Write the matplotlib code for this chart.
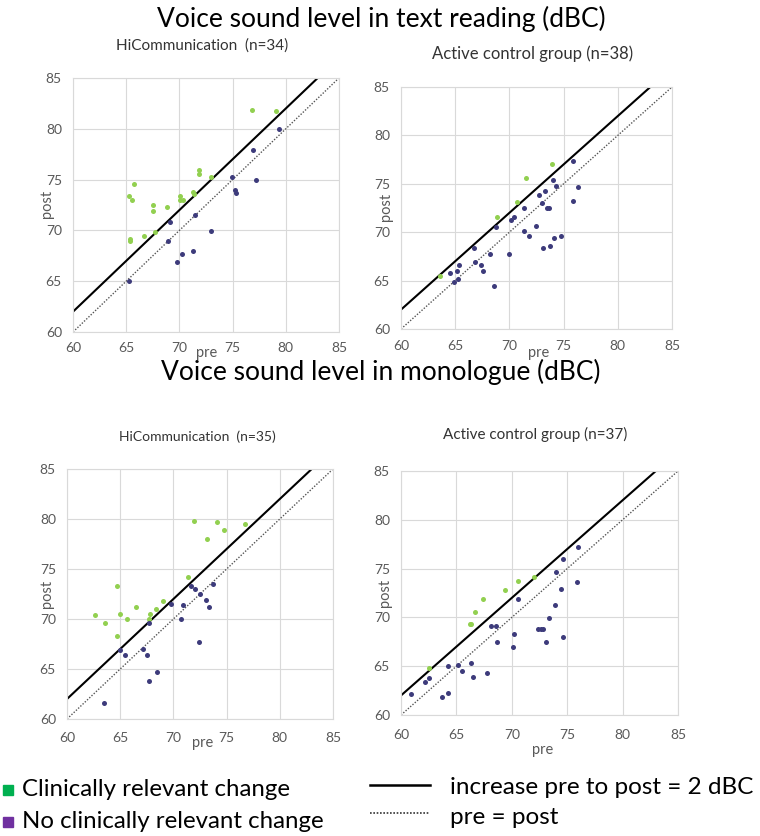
import matplotlib
matplotlib.use("Agg")
import matplotlib.pyplot as plt
import numpy as np

plt.rcParams['font.family'] = ['Lato', 'DejaVu Sans']

# ---------------- data ----------------
# Text reading, HiCommunication (n=34)
read_hi_green_pre = [65.31, 65.75, 65.5, 65.38, 65.38, 66.69, 67.53, 67.53, 68.88, 67.75,
                     70.06, 70.1, 70.3, 71.25, 71.38, 71.84, 71.84, 72.94, 76.84, 79.06]
read_hi_green_post = [73.43, 74.54, 73.03, 69.2, 68.93, 69.46, 72.54, 71.89, 72.31, 69.85,
                      73.43, 73.03, 73.03, 73.79, 73.6, 75.98, 75.56, 75.23, 81.89, 81.79]
read_hi_navy_pre = [65.31, 69.09, 68.97, 69.78, 70.28, 71.25, 71.44, 73.0, 74.94, 75.22,
                    75.31, 76.88, 77.19, 79.4]
read_hi_navy_post = [65.0, 70.87, 68.97, 66.93, 67.66, 68.02, 71.56, 69.98, 75.23, 73.95,
                     73.69, 77.95, 75.0, 80.02]

# Text reading, Active control group (n=38)
read_ac_green_pre = [63.6, 68.86, 70.67, 71.5, 73.9]
read_ac_green_post = [65.52, 71.59, 73.1, 75.59, 77.0]
read_ac_navy_pre = [64.55, 65.14, 65.32, 64.86, 65.26, 66.77, 66.8, 67.38, 67.53, 68.24,
                    68.61, 68.73, 69.96, 70.18, 70.39, 71.32, 71.35, 71.8, 72.45, 72.7,
                    72.97, 73.13, 73.28, 73.5, 73.62, 73.75, 74.02, 74.11, 74.3, 74.76,
                    75.87, 75.9, 76.3]
read_ac_navy_post = [65.83, 66.0, 66.62, 64.83, 65.17, 68.34, 66.97, 66.62, 66.0, 67.76,
                     64.48, 70.52, 67.76, 71.24, 71.52, 70.1, 72.55, 69.62, 70.59, 73.86,
                     73.03, 68.38, 74.24, 72.55, 72.55, 68.59, 75.38, 69.45, 74.79, 69.62,
                     77.31, 73.24, 74.66]

# Monologue, HiCommunication (n=35)
mono_hi_green_pre = [62.66, 63.59, 64.66, 64.69, 64.97, 65.66, 66.5, 67.69, 67.84, 68.38,
                     69.06, 71.38, 71.9, 73.19, 74.13, 74.78, 76.75]
mono_hi_green_post = [70.39, 69.59, 68.26, 73.32, 70.52, 69.96, 71.22, 69.96, 70.52, 71.02,
                      71.76, 74.25, 79.84, 78.04, 79.67, 78.94, 79.54]
mono_hi_navy_pre = [64.94, 65.44, 67.16, 67.5, 67.75, 67.72, 68.5, 69.75, 70.69, 70.94,
                    71.66, 72.06, 72.41, 72.53, 73.03, 73.34, 73.75, 63.47]
mono_hi_navy_post = [66.86, 66.36, 67.0, 66.36, 69.56, 63.84, 64.73, 71.52, 69.96, 71.42,
                     73.29, 72.96, 67.7, 72.49, 71.95, 71.22, 73.55, 61.63]

# Monologue, Active control group (n=37)
mono_ac_green_pre = [62.55, 66.24, 66.33, 66.69, 67.44, 69.39, 70.59, 71.97]
mono_ac_green_post = [64.83, 69.29, 69.36, 70.52, 71.88, 72.8, 73.76, 74.1]
mono_ac_navy_pre = [60.93, 62.13, 62.55, 64.23, 64.26, 63.72, 65.1, 65.55, 66.3, 66.48,
                    67.8, 68.1, 68.58, 68.7, 70.11, 70.17, 70.53, 72.39, 72.6, 72.81,
                    73.05, 73.32, 73.89, 74.01, 74.46, 74.58, 74.61, 75.94, 75.88]
mono_ac_navy_post = [62.17, 63.43, 63.84, 64.97, 62.27, 61.82, 65.14, 64.52, 65.34, 63.94,
                     64.28, 69.16, 69.16, 67.45, 66.94, 68.34, 71.85, 68.82, 68.82, 68.85,
                     67.49, 69.91, 71.3, 74.64, 72.9, 75.97, 68.0, 77.23, 73.62]

ticks = [60, 65, 70, 75, 80, 85]
section_titles = ["Voice sound level in text reading (dBC)", "Voice sound level in monologue (dBC)"]
panel_titles = ["HiCommunication  (n=34)", "Active control group (n=38)",
                "HiCommunication  (n=35)", "Active control group (n=37)"]
legend_labels = ["Clinically relevant change", "No clinically relevant change",
                 "increase pre to post = 2 dBC", "pre = post"]

GREEN = "#92D050"
NAVY = "#3D3B7B"
W, H = 760, 836

fig = plt.figure(figsize=(W / 100, H / 100), dpi=100)


def fx(x):
    return x / W


def fy(y):
    return 1 - y / H


def make_axes(x0, x1, y0, y1):
    return fig.add_axes([fx(x0), fy(y1), (x1 - x0) / W, (y1 - y0) / H])


panels = [
    dict(box=(73, 339, 78, 332), g=(read_hi_green_pre, read_hi_green_post),
         n=(read_hi_navy_pre, read_hi_navy_post), title=panel_titles[0], tpos=(202, 46), tsize=11,
         ylab=(47, 204), xlab=(207, 353), xpad=7),
    dict(box=(401, 672, 87, 329), g=(read_ac_green_pre, read_ac_green_post),
         n=(read_ac_navy_pre, read_ac_navy_post), title=panel_titles[1], tpos=(533, 54), tsize=12,
         ylab=(386, 207), xlab=(539, 353), xpad=8),
    dict(box=(67, 333, 469, 719), g=(mono_hi_green_pre, mono_hi_green_post),
         n=(mono_hi_navy_pre, mono_hi_navy_post), title=panel_titles[2], tpos=(197, 437), tsize=10,
         ylab=(47, 594), xlab=(203, 743), xpad=9),
    dict(box=(401, 678, 471, 715), g=(mono_ac_green_pre, mono_ac_green_post),
         n=(mono_ac_navy_pre, mono_ac_navy_post), title=panel_titles[3], tpos=(535, 434), tsize=11,
         ylab=(385, 593), xlab=(543, 750), xpad=10),
]

line_x = np.array([60, 85])

for p in panels:
    ax = make_axes(*p["box"])
    ax.set_xlim(60, 85)
    ax.set_ylim(60, 85)
    ax.set_xticks(ticks)
    ax.set_yticks(ticks)
    ax.grid(True, color="#D9D9D9", linewidth=0.8)
    ax.set_axisbelow(True)
    for s in ax.spines.values():
        s.set_color("#D9D9D9")
        s.set_linewidth(0.8)
    ax.tick_params(length=0, labelsize=10, labelcolor="#595959")
    ax.tick_params(axis="y", pad=8)
    ax.tick_params(axis="x", pad=p["xpad"])
    ax.plot(line_x, line_x + 2, color="black", linewidth=1.5, zorder=2)
    ax.plot(line_x, line_x, color="#555555", linewidth=1.0, linestyle=(0, (1, 1.2)), zorder=2)
    ax.scatter(p["g"][0], p["g"][1], s=13, color=GREEN, linewidths=0, zorder=3)
    ax.scatter(p["n"][0], p["n"][1], s=13, color=NAVY, linewidths=0, zorder=3)
    fig.text(fx(p["tpos"][0]), fy(p["tpos"][1]), p["title"], ha="center", va="center",
             fontsize=p["tsize"], color="#333333")
    fig.text(fx(p["ylab"][0]), fy(p["ylab"][1]), "post", rotation=90, ha="center", va="center",
             fontsize=10.5, color="#595959")
    fig.text(fx(p["xlab"][0]), fy(p["xlab"][1]), "pre", ha="center", va="center",
             fontsize=10.5, color="#595959")

fig.text(fx(381), fy(19), section_titles[0], ha="center", va="center", fontsize=19, color="black")
fig.text(fx(381), fy(372), section_titles[1], ha="center", va="center", fontsize=19, color="black")

# Legend
fig.patches.append(plt.Rectangle((fx(3), fy(795)), 10 / W, 10 / H, transform=fig.transFigure,
                                 color="#00B050", figure=fig))
fig.patches.append(plt.Rectangle((fx(3), fy(827)), 10 / W, 10 / H, transform=fig.transFigure,
                                 color="#7030A0", figure=fig))
fig.text(fx(22), fy(789), legend_labels[0], ha="left", va="center", fontsize=17.3, color="black")
fig.text(fx(22), fy(821), legend_labels[1], ha="left", va="center", fontsize=17.3, color="black")
fig.add_artist(plt.Line2D([fx(370), fx(430)], [fy(785), fy(785)], color="black", linewidth=1.8))
fig.add_artist(plt.Line2D([fx(370), fx(430)], [fy(813), fy(813)], color="#333333", linewidth=1.2,
                          linestyle=(0, (1, 1))))
fig.text(fx(450), fy(787), legend_labels[2], ha="left", va="center", fontsize=17.5, color="black")
fig.text(fx(450), fy(817), legend_labels[3], ha="left", va="center", fontsize=17.5, color="black")

fig.savefig("out.png", dpi=100)
